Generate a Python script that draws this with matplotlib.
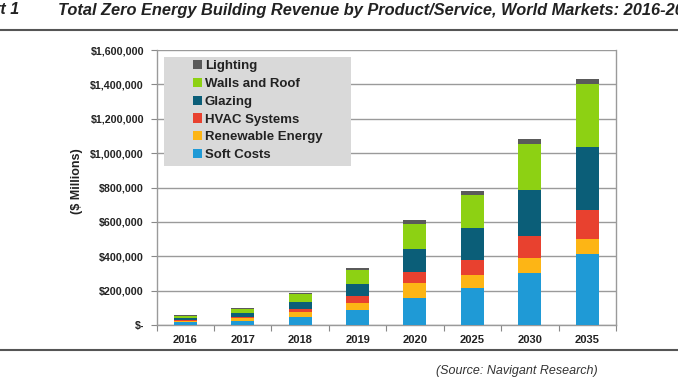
import numpy as np
import matplotlib
matplotlib.use("Agg")
import matplotlib.pyplot as plt
from matplotlib.lines import Line2D
from matplotlib.patches import Rectangle, Patch
from matplotlib.ticker import FuncFormatter

plt.rcParams['font.family'] = ['Liberation Sans', 'DejaVu Sans']

# data ($ millions)
years = ['2016', '2017', '2018', '2019', '2020', '2025', '2030', '2035']
soft_costs = [15000, 25000, 48000, 85000, 158000, 213000, 305000, 415000]
renewable = [8000, 14000, 27000, 44000, 84000, 79000, 83000, 83000]
hvac = [6000, 9000, 20000, 37000, 65000, 87000, 130000, 171000]
glazing = [13000, 22000, 38000, 74000, 135000, 187000, 265000, 369000]
walls_roof = [10000, 21000, 45000, 79000, 145000, 188000, 272000, 365000]
lighting = [6000, 6000, 9000, 15000, 26000, 27000, 25000, 27000]

series = [
    ('Soft Costs', soft_costs, '#1F9AD6'),
    ('Renewable Energy', renewable, '#FDB515'),
    ('HVAC Systems', hvac, '#E8412F'),
    ('Glazing', glazing, '#0B5E78'),
    ('Walls and Roof', walls_roof, '#8DD113'),
    ('Lighting', lighting, '#5A5A5A'),
]

W, H = 678, 381
fig = plt.figure(figsize=(W / 100, H / 100), dpi=100)
ax = fig.add_axes([156.5 / W, 1 - 325 / H, (616 - 156.5) / W, (325 - 50) / H])

x = np.arange(len(years))
bottom = np.zeros(len(years))
for name, vals, col in series:
    ax.bar(x, vals, 0.4, bottom=bottom, color=col, zorder=3, label=name)
    bottom += np.array(vals)

ax.set_xlim(-0.5, len(years) - 0.5)
ax.set_ylim(0, 1600000)
ax.set_yticks(np.arange(0, 1600001, 200000))
ax.yaxis.set_major_formatter(FuncFormatter(lambda v, p: '$-' if v == 0 else '${:,.0f}'.format(v)))
ax.set_xticks(x)
ax.set_xticklabels(years)
ax.set_xticks(np.arange(-0.5, len(years), 1), minor=True)
ax.tick_params(axis='x', which='major', length=0, pad=7)
ax.tick_params(axis='x', which='minor', length=4, color='#888888', width=0.8)
ax.tick_params(axis='y', length=4, color='#888888', width=0.8, pad=5)
for lbl in ax.get_yticklabels():
    lbl.set_fontweight('bold')
    lbl.set_fontsize(7.7)
    lbl.set_color('#222222')
for lbl in ax.get_xticklabels():
    lbl.set_fontweight('bold')
    lbl.set_fontsize(8)
    lbl.set_color('#222222')

ax.grid(axis='y', color='#9A9A9A', linewidth=1, zorder=0)
for s in ax.spines.values():
    s.set_color('#9A9A9A')
    s.set_linewidth(1)
ax.spines['top'].set_visible(False)

fig.text(77 / W, 1 - 181.5 / H, '($ Millions)', rotation=90, ha='center', va='center',
         fontsize=9, fontweight='bold', color='#222222')

# legend box
ax.add_patch(Rectangle((164 / W, 1 - 166 / H), (351 - 164) / W, (166 - 57) / H,
                       transform=fig.transFigure, facecolor='#D9D9D9', edgecolor='none', zorder=4))
handles = [Patch(facecolor=c, label=n) for n, v, c in series][::-1]
leg = ax.legend(handles=handles, loc='upper left', bbox_to_anchor=(193 / W, 1 - 60 / H),
                bbox_transform=fig.transFigure, frameon=False, fontsize=9.5,
                handlelength=0.7, handleheight=0.7, handletextpad=0.2,
                labelspacing=0.42, borderpad=0, borderaxespad=0)
for t in leg.get_texts():
    t.set_fontweight('bold')
    t.set_color('#222222')
leg.set_zorder(5)

# header / footer
fig.text(19 / W, 1 - 10 / H, 'Chart 1', ha='right', va='center', fontsize=11.5,
         fontweight='bold', fontstyle='italic', color='#222222')
fig.text(58 / W, 1 - 10 / H,
         'Total Zero Energy Building Revenue by Product/Service, World Markets: 2016-2035',
         ha='left', va='center', fontsize=11.8, fontweight='bold', fontstyle='italic', color='#222222')
fig.add_artist(Line2D([0, 1], [1 - 30 / H, 1 - 30 / H], transform=fig.transFigure,
                      color='#555555', linewidth=1.5))
fig.add_artist(Line2D([0, 1], [1 - 349.5 / H, 1 - 349.5 / H], transform=fig.transFigure,
                      color='#555555', linewidth=1.5))
fig.text(517 / W, 1 - 371 / H, '(Source: Navigant Research)', ha='center', va='center',
         fontsize=9, fontstyle='italic', color='#333333')

fig.savefig('out.png', dpi=100)
